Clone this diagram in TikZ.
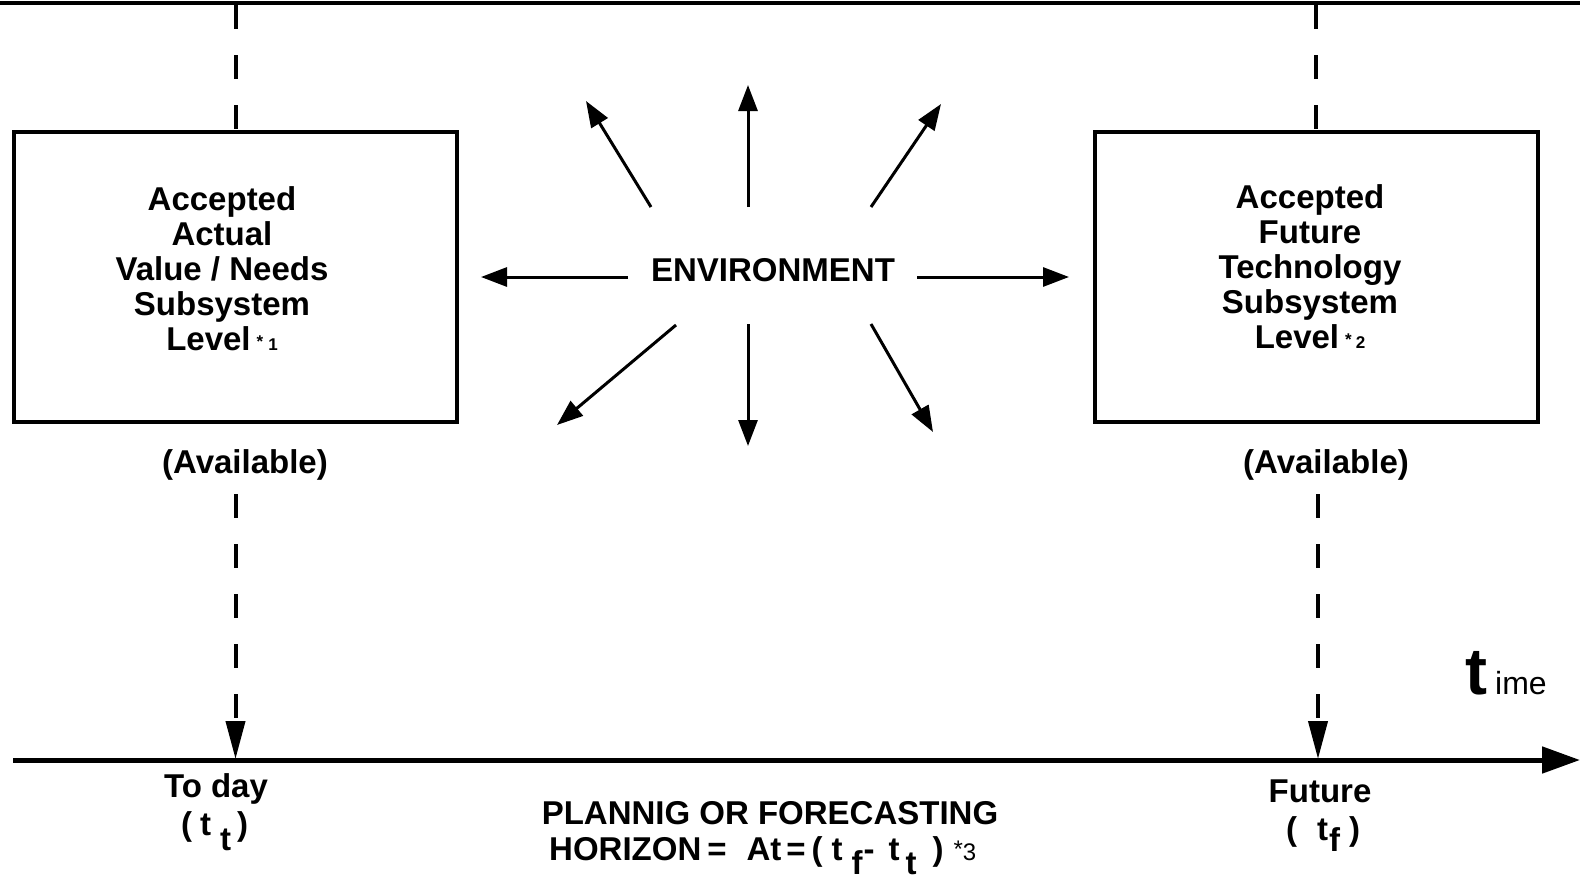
\documentclass[tikz,border=0pt]{standalone}
\usepackage{fontspec}
\setmainfont{Liberation Sans}
\usetikzlibrary{arrows.meta}
\begin{document}
\begin{tikzpicture}[x=1pt,y=-1pt,
  lbl/.style={font=\fontsize{33}{35}\selectfont\bfseries, align=center, inner sep=0pt},
  boxst/.style={draw, line width=4pt, minimum width=443pt, minimum height=290pt, inner sep=0pt},
  envarrow/.style={line width=3pt, -{Triangle[length=26pt,width=19pt]}},
  dashln/.style={line width=4pt, dash pattern=on 24pt off 26pt},
  dasharrow/.style={dashln, -{Triangle[length=38pt,width=19pt]}}
]
\useasboundingbox (0,0) rectangle (1580,879);
% top rule
\coordinate (t0) at (0,3);
\coordinate (t1) at (1580,3);
\draw[line width=4.5pt] (t0) -- (t1);

% boxes
\node[boxst] (lbox) at (235.5,277) {};
\node[boxst] (rbox) at (1316,277) {};
\node[lbl] (ltext) at (222,269) {Accepted\\Actual\\Value / Needs\\Subsystem\\Level\hspace{6pt}{\fontsize{17}{17}\selectfont\raisebox{3pt}{*}\hspace{5pt}1}};
\node[lbl] (rtext) at (1310,267) {Accepted\\Future\\Technology\\Subsystem\\Level\hspace{6pt}{\fontsize{17}{17}\selectfont\raisebox{3pt}{*}\hspace{4pt}2}};

% top dashed connectors
\coordinate (lt) at (235.5,5);
\coordinate (rt) at (1316,5);
\draw[dashln] (lt) -- (lbox.north);
\draw[dashln] (rt) -- (rbox.north);

% available labels
\node[lbl] (lav) at (245,465) {(Available)};
\node[lbl] (rav) at (1326,465) {(Available)};

% time axis
\coordinate (ax0) at (13,760);
\coordinate (ax1) at (1580,760);
\draw[line width=5pt, -{Triangle[length=38pt,width=26pt]}] (ax0) -- (ax1);
\coordinate (ltick) at (235.5,759);
\coordinate (rtick) at (1318,759);
\coordinate (ld0) at (235.5,494);
\coordinate (rd0) at (1318,494);
\draw[dasharrow] (ld0) -- (ltick);
\draw[dasharrow] (rd0) -- (rtick);

% environment
\node[lbl] (env) at (773,270) {ENVIRONMENT};
\coordinate (e1s) at (628,277);  \coordinate (e1e) at (481,277);
\coordinate (e2s) at (917,277);  \coordinate (e2e) at (1069,277);
\coordinate (e3s) at (748,207);  \coordinate (e3e) at (748,85);
\coordinate (e4s) at (651,207);  \coordinate (e4e) at (586,101);
\coordinate (e5s) at (871,207);  \coordinate (e5e) at (941,104);
\coordinate (e6s) at (676,325);  \coordinate (e6e) at (557,425);
\coordinate (e7s) at (748,324);  \coordinate (e7e) at (748,446);
\coordinate (e8s) at (871,324);  \coordinate (e8e) at (933,432);
\foreach \i in {1,...,8} {\draw[envarrow] (e\i s) -- (e\i e);}

% axis labels
\node[lbl] (today) at (216,789) {To day};
\node[lbl, anchor=base west] (tt) at (181,835) {(\hspace{8pt}t\hspace{9pt}\raisebox{-15pt}{t}\hspace{6pt})};
\node[lbl] (fut) at (1320,791) {Future};
\node[lbl, anchor=base west] (tf) at (1286,840) {(\hspace{20pt}t\hspace{1pt}\raisebox{-11pt}{f}\hspace{9pt})};

\node[lbl] (plan) at (770,813) {PLANNIG OR FORECASTING};
\node[lbl, anchor=base west] (hor) at (549,860) {HORIZON\hspace{6pt}=\hspace{20pt}At\hspace{5pt}=\hspace{6pt}(\hspace{9pt}t\hspace{9pt}\raisebox{-14pt}{f}\hspace{1pt}-\hspace{14pt}t\hspace{6pt}\raisebox{-14pt}{t}\hspace{16pt})\hspace{10pt}{\mdseries\fontsize{24}{24}\selectfont\raisebox{3pt}{*}3}};

\node[inner sep=0pt, anchor=base west] (time) at (1465,694) {{\fontsize{66}{66}\selectfont\bfseries t}\hspace{8pt}{\fontsize{32}{32}\selectfont ime}};
\end{tikzpicture}
\end{document}
